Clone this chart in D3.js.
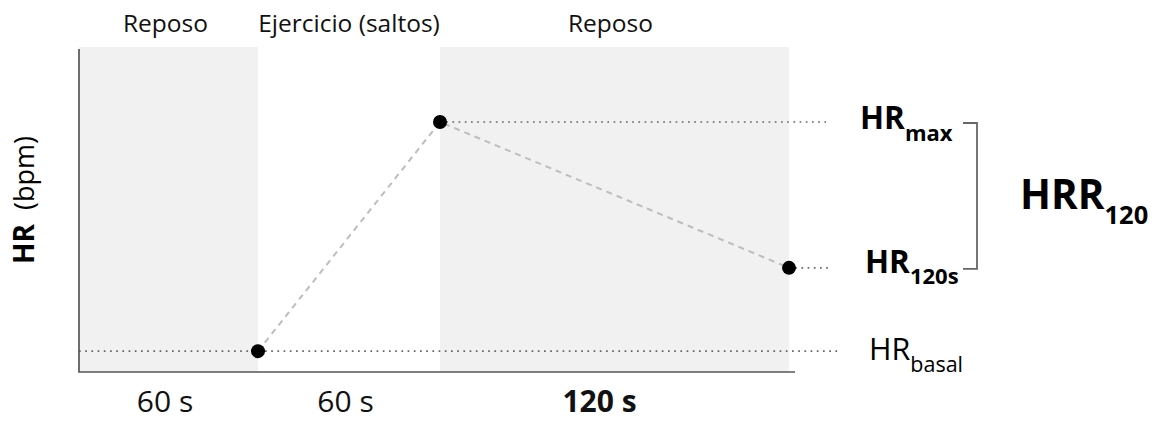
<!DOCTYPE html>
<html><head><meta charset="utf-8">
<script src="https://cdn.jsdelivr.net/npm/d3@7"></script>
<style>body{margin:0;background:#fff}svg{display:block;font-family:"Open Sans",sans-serif}</style>
</head><body>
<svg id="c" width="1157" height="421"></svg>
<script>
// Phases (seconds)
const phaseLabels = ["Reposo", "Ejercicio (saltos)", "Reposo"];
const phaseStarts = [0, 60, 120];
const phaseEnds = [60, 120, 240];
const phaseShaded = [true, false, true];
const durationLabels = ["60 s", "60 s", "120 s"];
const durationBold = [false, false, true];
// Heart-rate key points
const pointTimes = [60, 120, 240];
const pointHR = [70, 180, 110];
const pointNames = ["basal", "max", "120s"];

const svg = d3.select("#c");
const x = d3.scaleLinear().domain([0, 60, 120, 240]).range([79, 258, 440, 789]);
const y = d3.scaleLinear().domain([60, 216]).range([372, 47]);

// shaded rest phases
svg.selectAll("rect.ph").data(d3.range(phaseLabels.length).filter(i => phaseShaded[i]))
  .join("rect").attr("class", "ph")
  .attr("x", i => x(phaseStarts[i])).attr("width", i => x(phaseEnds[i]) - x(phaseStarts[i]))
  .attr("y", y.range()[1]).attr("height", y.range()[0] - y.range()[1])
  .attr("fill", "#f1f1f1");

// top labels
svg.selectAll("text.top").data(d3.range(phaseLabels.length)).join("text")
  .attr("x", i => (x(phaseStarts[i]) + x(phaseEnds[i])) / 2 - (i === 0 ? 3 : i === 2 ? 4 : 0))
  .attr("y", 32).attr("text-anchor", "middle").attr("font-size", 24.5).attr("fill", "#111")
  .text(i => phaseLabels[i]);

// bottom duration labels
svg.selectAll("text.bot").data(d3.range(durationLabels.length)).join("text")
  .attr("x", i => (x(phaseStarts[i]) + x(phaseEnds[i])) / 2 - (i === 2 ? 15 : 3.5))
  .attr("y", 412).attr("text-anchor", "middle").attr("font-size", 30).attr("fill", "#111")
  .attr("font-weight", i => durationBold[i] ? "bold" : "normal")
  .text(i => durationLabels[i]);

// dotted reference lines
const dotEnds = {basal: 840, max: 826, "120s": 832};
pointNames.forEach((n, i) => {
  const x0 = n === "basal" ? x(0) : x(pointTimes[i]);
  svg.append("line").attr("x1", x0).attr("x2", dotEnds[n])
    .attr("y1", y(pointHR[i])).attr("y2", y(pointHR[i]))
    .attr("stroke", "#666").attr("stroke-width", 1.7).attr("stroke-dasharray", "1.7,4.5");
});

// axes
svg.append("line").attr("x1", x(0)).attr("x2", x(0)).attr("y1", 49).attr("y2", y(60))
  .attr("stroke", "#555").attr("stroke-width", 1.7);
svg.append("line").attr("x1", x(0) - 0.8).attr("x2", x(240) + 6).attr("y1", y(60)).attr("y2", y(60))
  .attr("stroke", "#555").attr("stroke-width", 1.7);

// dashed connecting line
const line = d3.line().x((d, i) => x(pointTimes[i])).y((d, i) => y(pointHR[i]));
svg.append("path").attr("d", line(pointHR)).attr("fill", "none")
  .attr("stroke", "#bdbdbd").attr("stroke-width", 2).attr("stroke-dasharray", "6,5");

// points
svg.selectAll("circle").data(pointHR).join("circle")
  .attr("cx", (d, i) => x(pointTimes[i])).attr("cy", d => y(d)).attr("r", 7).attr("fill", "#000");

// right labels
function sublabel(xp, yb, main, sub, size, subSize, weight, subDy) {
  const t = svg.append("text").attr("x", xp).attr("y", yb).attr("font-weight", weight)
    .attr("font-size", size).attr("fill", "#000");
  t.append("tspan").text(main);
  t.append("tspan").attr("font-size", subSize).attr("dy", subDy).text(sub);
}
sublabel(860, 129, "HR", "max", 31.5, 22, "bold", 12);
sublabel(865, 273, "HR", "120s", 31.5, 22, "bold", 11);
sublabel(869, 360, "HR", "basal", 30.5, 21.5, "normal", 12);
sublabel(1020, 209, "HRR", "120", 40.5, 25.5, "bold", 15);

// bracket
svg.append("path")
  .attr("d", `M963,${y(pointHR[1]) + 1}H977V${y(pointHR[2]) + 1}H963`)
  .attr("fill", "none").attr("stroke", "#666").attr("stroke-width", 1.8);

// y-axis title
const yt = svg.append("text").attr("transform", "translate(34,200) rotate(-90)")
  .attr("text-anchor", "middle").attr("font-size", 28).attr("fill", "#000");
yt.append("tspan").attr("font-weight", "bold").text("HR");
yt.append("tspan").attr("font-size", 27).text("\u00a0 (bpm)");
</script>
</body></html>
